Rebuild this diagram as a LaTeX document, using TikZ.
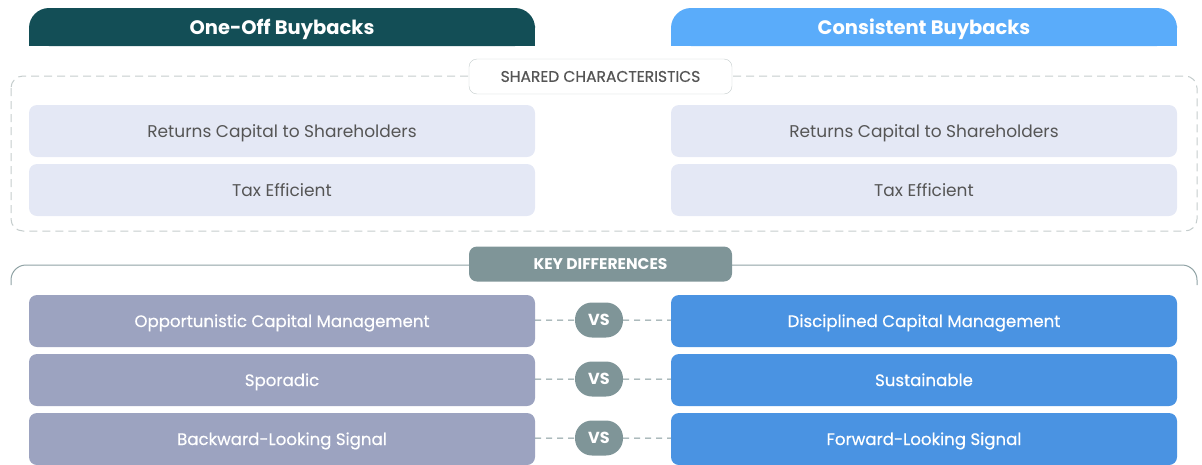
\documentclass[tikz,border=0pt]{standalone}
\usepackage{fontspec}
\setmainfont{Poppins}
\newfontfamily\medium{Poppins}[FakeBold=0.5]
\usetikzlibrary{shapes,arrows,positioning,fit}

\definecolor{oneoff}{HTML}{134E56}
\definecolor{consistent}{HTML}{5AACFA}
\definecolor{sharedfill}{HTML}{E4E8F5}
\definecolor{oldfill}{HTML}{9CA3C0}
\definecolor{newfill}{HTML}{4A93E2}
\definecolor{vsfill}{HTML}{7F9598}
\definecolor{framegray}{HTML}{C5CDCD}
\definecolor{keyline}{HTML}{8FA2A4}
\definecolor{txtgray}{HTML}{555555}

\begin{document}
\begin{tikzpicture}[x=1pt, y=-1pt,
  every node/.style={font=\fontsize{17}{20}\selectfont, inner sep=0pt, text height=12pt, text depth=0pt},
  card/.style={rectangle, rounded corners=8pt, minimum width=506pt, minimum height=52pt},
  shared/.style={card, fill=sharedfill, text=txtgray},
  olddiff/.style={card, fill=oldfill, text=white, font=\medium\fontsize{16.6}{20}\selectfont},
  newdiff/.style={card, fill=newfill, text=white, font=\medium\fontsize{16.6}{20}\selectfont},
  head/.style={text=white, font=\fontsize{19.5}{22}\selectfont\bfseries, text height=13.8pt},
  tag/.style={rectangle, rounded corners=8pt, minimum width=263pt, minimum height=35pt, font=\medium\fontsize{15.5}{18}\selectfont, text height=10.8pt},
  vs/.style={rectangle, rounded corners=17pt, minimum width=48pt, minimum height=35pt, fill=vsfill, text=white, font=\fontsize{16}{18}\selectfont\bfseries, text height=11.2pt},
  link/.style={draw=vsfill, dash pattern=on 6pt off 5pt, line width=1pt}]
  \useasboundingbox (0,0) rectangle (1202,464);

  % column headers
  \fill[oneoff, rounded corners=20pt] (29,8) rectangle (535,46);
  \fill[oneoff] (29,27) rectangle (535,46);
  \fill[consistent, rounded corners=20pt] (671,8) rectangle (1177,46);
  \fill[consistent] (671,27) rectangle (1177,46);
  \node[head] (hl) at (282,27.5) {One-Off Buybacks};
  \node[head] (hr) at (924,27.5) {Consistent Buybacks};

  % shared part
  \draw[framegray, line width=1pt, dash pattern=on 8pt off 5pt, rounded corners=12pt] (11,76) rectangle (1197,231);
  \node[tag, fill=white, draw=framegray, text=txtgray] (sc) at (600.5,76.5) {SHARED CHARACTERISTICS};
  \node[shared] (s1) at (282,131) {Returns Capital to Shareholders};
  \node[shared] (s2) at (282,190) {Tax Efficient};
  \node[shared] (t1) at (924,131) {Returns Capital to Shareholders};
  \node[shared] (t2) at (924,190) {Tax Efficient};

  % differences
  \draw[keyline, line width=1pt, rounded corners=15pt] (11,285) -- (11,265) -- (1197,265) -- (1197,285);
  \node[tag, fill=vsfill, text=white, font=\fontsize{15.5}{18}\selectfont\bfseries] (kd) at (600.5,264) {KEY DIFFERENCES};

  \node[olddiff] (o1) at (282,321) {Opportunistic Capital Management};
  \node[olddiff] (o2) at (282,380) {Sporadic};
  \node[olddiff] (o3) at (282,439) {Backward-Looking Signal};
  \node[newdiff] (c1) at (924,321) {Disciplined Capital Management};
  \node[newdiff] (c2) at (924,380) {Sustainable};
  \node[newdiff] (c3) at (924,439) {Forward-Looking Signal};

  \node[vs] (v1) at (599,320) {VS};
  \node[vs] (v2) at (599,379) {VS};
  \node[vs] (v3) at (599,438) {VS};

  \draw[link] (o1) -- (v1); \draw[link] (v1) -- (c1);
  \draw[link] (o2) -- (v2); \draw[link] (v2) -- (c2);
  \draw[link] (o3) -- (v3); \draw[link] (v3) -- (c3);
\end{tikzpicture}
\end{document}
